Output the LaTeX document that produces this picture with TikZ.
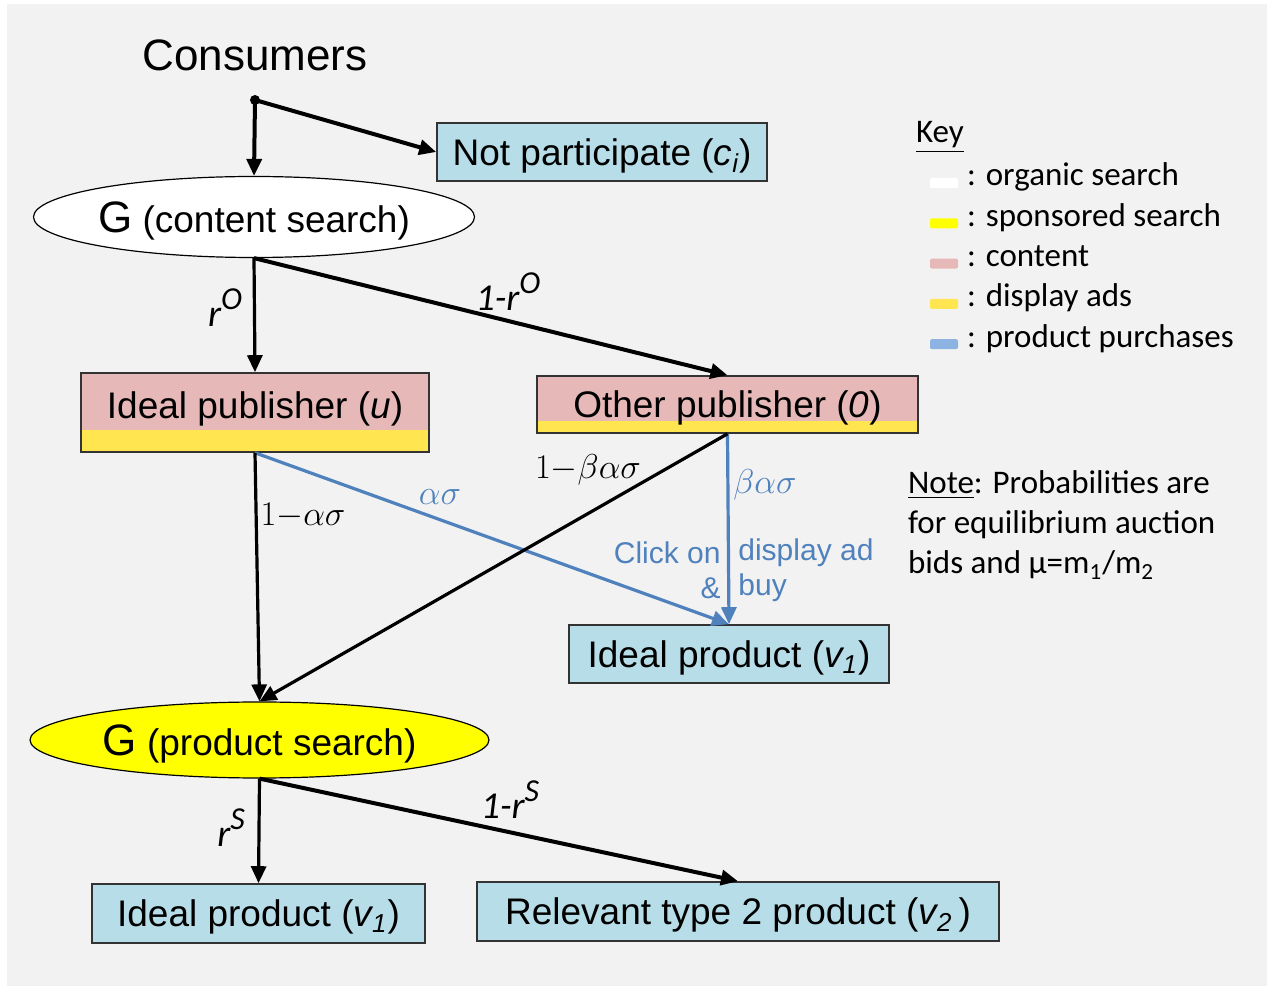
\documentclass[tikz,border=0pt]{standalone}
\usepackage{fontspec}
\setmainfont{Liberation Sans}
\newfontfamily\keyfont{Carlito}
\usetikzlibrary{shapes.geometric,arrows.meta}
\definecolor{bggray}{HTML}{F2F2F2}
\definecolor{boxblue}{HTML}{B7DEE8}
\definecolor{contentpink}{HTML}{E6B9B8}
\definecolor{adyellow}{HTML}{FFE650}
\definecolor{sponsored}{HTML}{FFFF00}
\definecolor{buyblue}{HTML}{4F81BD}
\definecolor{keyblue}{HTML}{8DB3E2}
\def\boxFont{\fontsize{18.5}{22}\selectfont}
\def\keyFont{\keyfont\fontsize{16.5}{20}\selectfont}
\def\probFont{\keyfont\itshape\fontsize{19}{21}\selectfont}
\newcommand{\rprob}[1]{r\raisebox{0.45em}{\fontsize{16}{16}\selectfont #1}}

\tikzset{
	prodbox/.style={draw=black!80, fill=boxblue, line width=0.8pt, inner sep=0pt, text depth=0pt, font=\boxFont},
	pubbox/.style={draw=black!80, fill=contentpink, line width=0.8pt, inner sep=0pt, text depth=0pt, font=\boxFont,
		path picture={\fill[adyellow] (path picture bounding box.south west) rectangle ([yshift=#1]path picture bounding box.south east);}},
	gnode/.style={ellipse, draw, line width=0.6pt, inner sep=0pt, text depth=0pt, font=\boxFont},
	flow/.style={-{Triangle[length=8.5pt,width=7.5pt]}, line width=1.6pt},
	heavyflow/.style={flow, line width=2pt},
	buyflow/.style={flow, draw=buyblue},
	prob/.style={font=\probFont},
	mathlab/.style={font=\fontsize{16}{18}\selectfont},
	buylab/.style={text=buyblue, inner sep=0pt, font=\fontsize{15}{17.5}\selectfont},
	swatch/.style={rectangle, rounded corners=1pt, minimum width=14pt, minimum height=5pt, inner sep=0pt},
}

\begin{document}
\begin{tikzpicture}[x=0.5pt, y=-0.5pt]

	%page and background
	\useasboundingbox (0,0) rectangle (1271,989);
	\fill[bggray] (7,4) rectangle (1267,986);

	%consumers and the first split
	\node[font=\fontsize{22}{24}\selectfont] (cons) at (255,55) {Consumers};
	\coordinate (fork) at (255,100);
	\fill (fork) circle (2.5pt);
	\node[prodbox, minimum width=165pt, minimum height=29pt] (notp) at (602,152) {Not participate (\textit{c\textsubscript{i}})};
	\node[gnode, fill=white, minimum width=211.5pt, minimum height=40.5pt] (cs) at (254,217) {{\fontsize{22}{24}\selectfont G} (content search)};

	%publishers
	\node[pubbox=11pt, minimum width=174pt, minimum height=39.5pt, text depth=7pt] (ip) at (255,412.5) {Ideal publisher (\textit{u})};
	\node[pubbox=6pt, minimum width=190.5pt, minimum height=28.5pt] (op) at (727.5,404.5) {Other publisher (\textit{0})};

	%products
	\node[prodbox, minimum width=160pt, minimum height=29pt] (prodA) at (729,654) {Ideal product (\textit{v\textsubscript{1}})};
	\node[gnode, fill=sponsored, minimum width=229.5pt, minimum height=38pt] (ps) at (259.5,740) {{\fontsize{22}{24}\selectfont G} (product search)};
	\node[prodbox, minimum width=166.5pt, minimum height=29.5pt] (prodB) at (258.5,913.5) {Ideal product (\textit{v\textsubscript{1}})};
	\node[prodbox, minimum width=261pt, minimum height=29.5pt] (rel) at (738,911.5) {Relevant type 2 product (\textit{v\textsubscript{2}}\,)};

	%connectors
	\draw[heavyflow] (fork) -- (cs.north);
	\draw[heavyflow] (fork) -- (notp.west);
	\draw[flow] (cs.south) -- (ip.north);
	\draw[heavyflow] (cs.south) -- (op.north);
	\draw[buyflow] (ip.south) -- (prodA.north);
	\draw[buyflow] (op.south) -- (prodA.north);
	\draw[flow] (ip.south) -- (ps.north);
	\draw[flow] (op.south) -- (ps.north);
	\draw[flow] (ps.south) -- (prodB.north);
	\draw[heavyflow] (ps.south) -- (rel.north);

	%probabilities
	\node[prob] (pO) at (225,308) {\rprob{O}};
	\node[prob] (qO) at (508,292) {1-\rprob{O}};
	\node[prob] (pS) at (231,828) {\rprob{S}};
	\node[prob] (qS) at (510,800) {1-\rprob{S}};
	\node[mathlab] (noclick) at (303,516) {$1{-}\alpha\sigma$};
	\node[mathlab, text=buyblue] (click) at (440,497) {$\alpha\sigma$};
	\node[mathlab] (noclickO) at (588,470) {$1{-}\beta\alpha\sigma$};
	\node[mathlab, text=buyblue] (clickO) at (765,485) {$\beta\alpha\sigma$};
	\node[buylab, anchor=east, align=right] (buyL) at (721,570) {Click on\\\&};
	\node[buylab, anchor=west, align=left] (buyR) at (738,570) {display ad\\buy};

	%key
	\node[anchor=west, font=\keyFont] (keytitle) at (909,137) {\underline{Key}};
	\foreach \col/\txt [count=\i from 0] in {white/organic search, sponsored/sponsored search, contentpink/content, adyellow/display ads, keyblue/product purchases}{
		\node[swatch, fill=\col] (sw\i) at (944,183+40.3*\i) {};
		\node[anchor=base west, font=\keyFont] (key\i) at (960,186+40.3*\i) {: \txt};
	}

	%note
	\node[anchor=north west, align=left, font=\keyFont] (note) at (901,464) {\underline{Note}: Probabilities are\\for equilibrium auction\\bids and μ=m\textsubscript{1}/m\textsubscript{2}};

\end{tikzpicture}
\end{document}
